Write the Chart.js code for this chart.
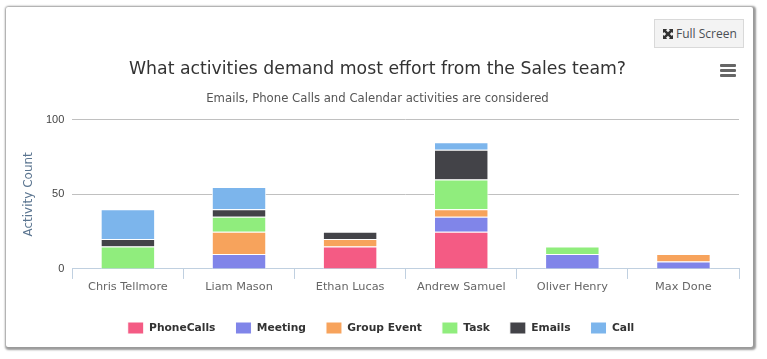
<!DOCTYPE html>
<html><head><meta charset="utf-8">
<script src="https://cdn.jsdelivr.net/npm/chart.js@4"></script>
<style>
html,body{margin:0;padding:0;background:#fff;overflow:hidden}
#panel{position:absolute;left:6px;top:7px;width:747px;height:340px;background:#fff;border-radius:2px;box-shadow:1px 1px 2px 2px #9a9a9a}
#wrap{position:absolute;left:6px;top:7px;width:747px;height:340px}
#btn{position:absolute;left:654px;top:19px;width:90px;height:29px;box-sizing:border-box;border:1px solid #d9d9d9;background:#f3f3f3;font:12px "Open Sans",sans-serif;color:#4a4f55;line-height:27px;text-align:left;padding-left:21px;white-space:nowrap}
#btn svg{position:absolute;left:8px;top:9px}
#menu{position:absolute;left:720px;top:64px;width:16px;height:13px}
#menu i{display:block;height:3px;background:#666;margin-bottom:2px;border-radius:1px}
</style></head><body>
<div id="panel"></div>
<div id="wrap"><canvas id="c" width="747" height="340"></canvas></div>
<div id="btn"><svg width="10" height="10" viewBox="0 0 12 12"><path d="M0 0h5L3.6 1.4 6 3.8 8.4 1.4 7 0h5v5l-1.4-1.4L8.2 6l2.4 2.4L12 7v5H7l1.4-1.4L6 8.2 3.6 10.6 5 12H0V7l1.4 1.4L3.8 6 1.4 3.6 0 5z" fill="#333"/></svg>Full Screen</div>
<div id="menu"><i></i><i></i><i></i></div>
<script>
const categories=["Chris Tellmore","Liam Mason","Ethan Lucas","Andrew Samuel","Oliver Henry","Max Done"];
const phoneCalls=[0,0,15,25,0,0];
const meeting=[0,10,0,10,10,5];
const groupEvent=[0,15,5,5,0,5];
const task=[15,10,0,20,5,0];
const emails=[5,5,5,20,0,0];
const call=[20,15,0,5,0,0];
const yTicks=[0,50,100];
const titleText="What activities demand most effort from the Sales team?";
const subtitleText="Emails, Phone Calls and Calendar activities are considered";
const yTitle="Activity Count";
const FF='"DejaVu Sans",sans-serif';
const ds=(label,data,color)=>({label,data,backgroundColor:color,borderColor:'#fff',borderWidth:1,barPercentage:0.49,categoryPercentage:1,stack:'s'});
const legendShift={id:'legendShift',afterLayout(c){const l=c.legend;l.left+=3.5;l.right+=3.5;l.top+=1;l.bottom+=1;}};
new Chart(document.getElementById('c'),{
 type:'bar',
 data:{labels:categories,datasets:[
  ds('PhoneCalls',phoneCalls,'#f45b84'),
  ds('Meeting',meeting,'#8085e9'),
  ds('Group Event',groupEvent,'#f7a35c'),
  ds('Task',task,'#90ed7d'),
  ds('Emails',emails,'#434348'),
  ds('Call',call,'#7cb5ec')]},
 plugins:[legendShift],
 options:{
  responsive:false,animation:false,
  layout:{padding:{left:10,right:14,top:0,bottom:4}},
  plugins:{
   title:{display:true,text:titleText,color:'#333',font:{family:FF,size:17.3,weight:'normal'},padding:{top:52,bottom:12}},
   subtitle:{display:true,text:subtitleText,color:'#555',font:{family:FF,size:11.7,weight:'normal'},padding:{top:0,bottom:14}},
   legend:{position:'bottom',labels:{boxWidth:16,boxHeight:12,padding:20,color:'#333',font:{family:FF,size:10.7,weight:'bold'}}},
   tooltip:{enabled:false}
  },
  scales:{
   x:{stacked:true,offset:true,
    afterFit:s=>{s.height+=6.5},
    grid:{drawOnChartArea:false,color:'#c0d0e0',tickLength:10,offset:true},
    border:{color:'#c0d0e0'},
    ticks:{color:'#666',font:{family:FF,size:11.3},padding:1,maxRotation:0}},
   y:{stacked:true,min:0,max:100,
    afterBuildTicks:s=>{s.ticks=yTicks.map(v=>({value:v}))},
    grid:{color:'#c0c0c0',drawTicks:false},
    border:{display:false},
    ticks:{color:'#444',font:{family:'"Liberation Sans",sans-serif',size:11},padding:8},
    title:{display:true,text:yTitle,color:'#5b7590',font:{family:FF,size:12,weight:'normal'},padding:{top:6,bottom:1.6}}}
  }
 }
});
</script></body></html>
